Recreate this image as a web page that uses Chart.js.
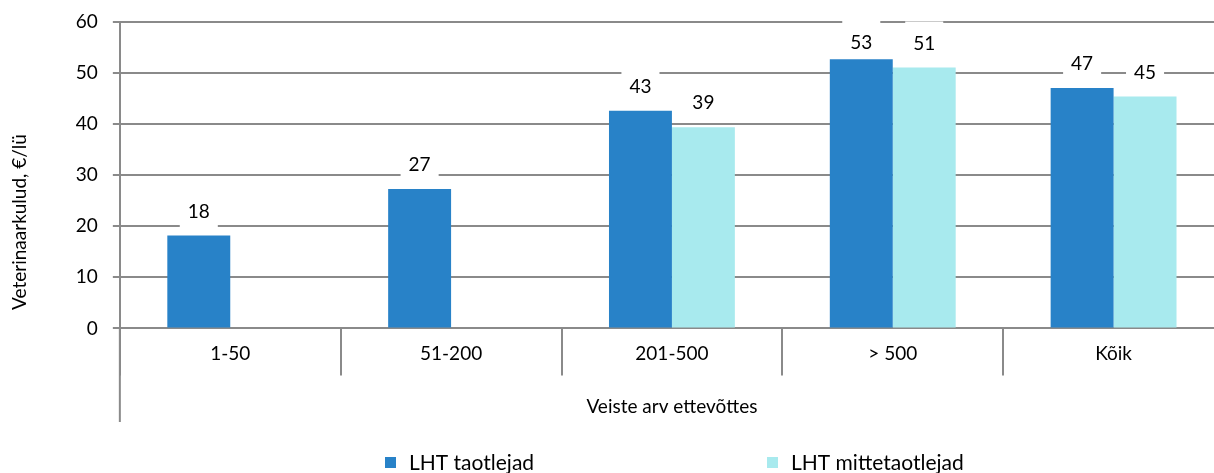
<!DOCTYPE html>
<html>
<head>
<meta charset="utf-8">
<script src="https://cdn.jsdelivr.net/npm/chart.js@4"></script>
<style>
  html, body { margin: 0; padding: 0; background: #fff; overflow: hidden; }
  #wrap { width: 1226px; height: 473px; }
</style>
</head>
<body>
<div id="wrap"><canvas id="chartVet"></canvas></div>
<script>
var categories = ['1-50', '51-200', '201-500', '> 500', 'Kõik'];
var taotlejad = [18.2, 27.3, 42.6, 52.7, 47.1];
var mittetaotlejad = [null, null, 39.4, 51.1, 45.4];
var seriesNames = ['LHT taotlejad', 'LHT mittetaotlejad'];
var yTicks = [0, 10, 20, 30, 40, 50, 60];
var yTitle = 'Veterinaarkulud, €/lü';

var FONT = 'Lato, "Open Sans", sans-serif';
var GRID = '#8a8a8a';

// value labels with white box above each bar
var valueLabels = {
    id: 'valueLabels',
    afterDatasetsDraw: function (chart) {
        var ctx = chart.ctx;
        ctx.save();
        ctx.font = '19px ' + FONT;
        ctx.textAlign = 'center';
        ctx.textBaseline = 'middle';
        chart.data.datasets.forEach(function (ds, i) {
            chart.getDatasetMeta(i).data.forEach(function (bar, j) {
                var v = ds.data[j];
                if (v === null) return;
                var txt = String(Math.round(v));
                var y = Math.max(bar.y - 25, chart.chartArea.top + 20);
                var w = ctx.measureText(txt).width + 16;
                ctx.fillStyle = '#fff';
                ctx.fillRect(bar.x - w / 2, y - 21, w, 38);
                ctx.fillStyle = '#000';
                ctx.fillText(txt, bar.x, y + 1);
            });
        });
        ctx.restore();
    }
};

// long left axis line, y title centred on the full axis, legend at bottom
var extras = {
    id: 'extras',
    afterDraw: function (chart) {
        var ctx = chart.ctx;
        var area = chart.chartArea;
        var axisEnd = chart.scales.x.bottom - 6;
        ctx.save();
        ctx.strokeStyle = GRID;
        ctx.lineWidth = 2;
        ctx.beginPath();
        ctx.moveTo(area.left, area.bottom);
        ctx.lineTo(area.left, axisEnd);
        ctx.stroke();

        ctx.save();
        ctx.translate(20, (area.top + axisEnd) / 2);
        ctx.rotate(-Math.PI / 2);
        ctx.font = '19px ' + FONT;
        ctx.fillStyle = '#000';
        ctx.textAlign = 'center';
        ctx.textBaseline = 'middle';
        ctx.fillText(yTitle, 0, 0);
        ctx.restore();

        var legendX = [385, 767];
        var ly = chart.height - 11;
        ctx.font = '21px ' + FONT;
        ctx.textBaseline = 'middle';
        ctx.textAlign = 'left';
        chart.data.datasets.forEach(function (ds, i) {
            ctx.fillStyle = ds.backgroundColor;
            ctx.fillRect(legendX[i], ly - 5, 11, 11);
            ctx.fillStyle = '#000';
            ctx.fillText(ds.label, legendX[i] + 24, ly + 1);
        });
        ctx.restore();
    }
};

document.addEventListener("DOMContentLoaded", function () {
    var ctx = document.getElementById('chartVet').getContext('2d');
    var chart = new Chart(ctx, {
        type: 'bar',
        data: {
            labels: categories,
            datasets: [{
                label: seriesNames[0],
                data: taotlejad,
                backgroundColor: '#2882c8',
                categoryPercentage: 0.57,
                barPercentage: 1
            }, {
                label: seriesNames[1],
                data: mittetaotlejad,
                backgroundColor: '#a8eaee',
                categoryPercentage: 0.57,
                barPercentage: 1
            }]
        },
        options: {
            responsive: true,
            maintainAspectRatio: false,
            animation: false,
            layout: {
                padding: { top: 22, right: 2, bottom: 45, left: 0 }
            },
            plugins: {
                legend: { display: false },
                tooltip: { enabled: false }
            },
            scales: {
                x: {
                    offset: true,
                    grid: {
                        offset: true,
                        drawOnChartArea: false,
                        drawTicks: true,
                        tickLength: 47,
                        color: GRID,
                        lineWidth: 2
                    },
                    border: { color: GRID, width: 2 },
                    ticks: {
                        padding: -33,
                        color: '#000',
                        font: { family: FONT, size: 19 }
                    },
                    title: {
                        display: true,
                        text: 'Veiste arv ettevõttes',
                        color: '#000',
                        font: { family: FONT, size: 19 },
                        padding: { top: 63, bottom: 10 }
                    }
                },
                y: {
                    min: 0,
                    max: 60,
                    afterBuildTicks: function (axis) {
                        axis.ticks = yTicks.map(function (v) { return { value: v }; });
                    },
                    afterFit: function (axis) {
                        axis.paddingTop = 0;
                    },
                    grid: {
                        color: GRID,
                        lineWidth: 2,
                        tickLength: 7
                    },
                    border: { color: GRID, width: 2 },
                    ticks: {
                        padding: 15,
                        color: '#000',
                        font: { family: FONT, size: 19 }
                    },
                    title: {
                        display: true,
                        text: yTitle,
                        color: 'rgba(0,0,0,0)',
                        font: { family: FONT, size: 19 },
                        padding: { top: 10, bottom: 28 }
                    }
                }
            }
        },
        plugins: [valueLabels, extras]
    });
});
</script>
</body>
</html>
